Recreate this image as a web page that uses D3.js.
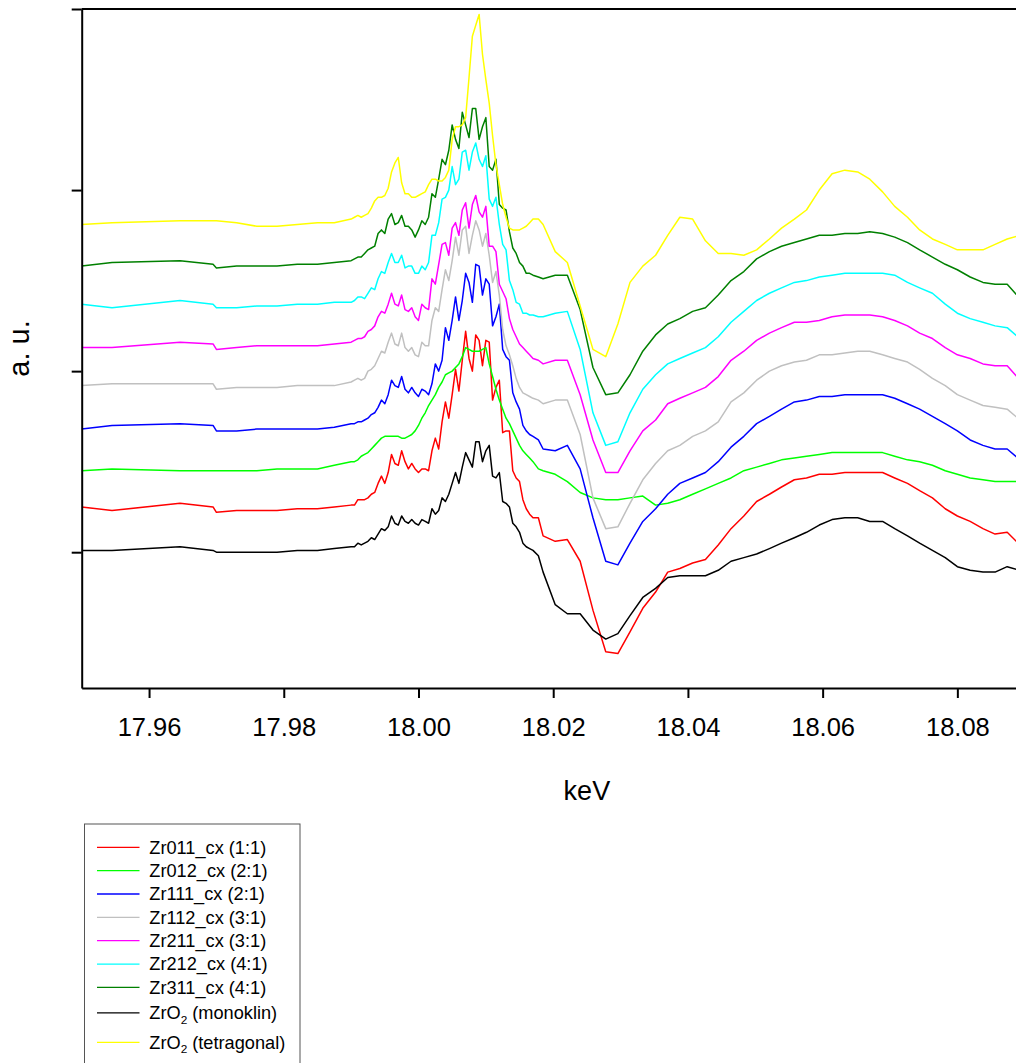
<!DOCTYPE html>
<html>
<head>
<meta charset="utf-8">
<script src="https://cdn.jsdelivr.net/npm/d3@7"></script>
<style>
  body { margin: 0; background: #ffffff; }
  svg { display: block; font-family: Arial, "Liberation Sans", Helvetica, sans-serif; }
</style>
</head>
<body>
<svg id="chart" width="1016" height="1063"></svg>
<script>
// Photon energy grid (keV) shared by all Zr K-edge XANES spectra
const energy = [
  17.9500, 17.9545, 17.9646, 17.9695, 17.9700, 17.9730, 17.9760, 17.9790, 17.9820, 17.9850, 17.9875,
  17.9900, 17.9905, 17.9910, 17.9915, 17.9920, 17.9925, 17.9930, 17.9935, 17.9940, 17.9945,
  17.9950, 17.9955, 17.9960, 17.9965, 17.9970, 17.9975, 17.9980, 17.9985, 17.9990, 17.9995,
  18.0000, 18.0005, 18.0010, 18.0015, 18.0020, 18.0025, 18.0030, 18.0035, 18.0040, 18.0045,
  18.0050, 18.0055, 18.0060, 18.0065, 18.0070, 18.0075, 18.0080, 18.0085, 18.0090, 18.0095,
  18.0100, 18.0105, 18.0110, 18.0115, 18.0120, 18.0125, 18.0130, 18.0135, 18.0140, 18.0145,
  18.0150, 18.0155, 18.0160, 18.0165, 18.0170,
  18.0178, 18.0185, 18.0203, 18.0221, 18.0240, 18.0259, 18.0278, 18.0296, 18.0314, 18.0333,
  18.0352, 18.0370, 18.0388, 18.0407, 18.0426, 18.0445, 18.0464, 18.0483, 18.0502, 18.0521,
  18.0539, 18.0558, 18.0576, 18.0595, 18.0614, 18.0633, 18.0652, 18.0670, 18.0689, 18.0707,
  18.0726, 18.0744, 18.0763, 18.0782, 18.0800, 18.0819, 18.0838, 18.0856, 18.0874, 18.0893
];

// Absorption (a.u., stacked with vertical offsets)
const zr011 = [
  25, 23, 27, 25, 22, 23, 23, 23, 24, 24, 25,
  26, 26, 29, 29, 29, 30, 32, 33, 38, 42,
  38, 44, 54, 49, 48, 56, 50, 46, 49, 46,
  44, 46, 46, 45, 56, 63, 57, 72, 83, 74,
  87, 101, 89, 106, 122, 107, 100, 120, 117, 103,
  117, 116, 84, 91, 95, 66, 67, 67, 45, 41,
  39, 29, 24, 21, 19,
  19, 9, 6, 7, -5, -32, -55, -56, -44, -31,
  -22, -11, -9, -6, -4, 4, 13, 20, 28, 32,
  36, 40, 41, 43, 43, 44, 44, 44, 44, 41,
  38, 34, 30, 24, 20, 17, 13, 10, 11, 4
];
const zr012 = [
  45, 46, 45, 45, 45, 45, 45, 46, 46, 46, 48,
  50, 50, 51, 53, 54, 55, 57, 59, 61, 63,
  64, 64, 64, 64, 64, 63, 63, 64, 65, 67,
  70, 74, 77, 81, 84, 87, 91, 94, 98, 99,
  100, 102, 104, 108, 113, 112, 111, 111, 111, 112,
  113, 104, 97, 90, 84, 79, 74, 71, 67, 63,
  59, 56, 54, 52, 50,
  46, 45, 43, 39, 33, 30, 29, 29, 30, 31,
  26, 27, 29, 32, 35, 38, 41, 45, 47, 49,
  51, 52, 53, 54, 55, 55, 55, 55, 55, 53,
  51, 50, 48, 45, 43, 41, 40, 39, 39, 39
];
const zr111 = [
  68, 70, 71, 70, 67, 67, 68, 68, 68, 68, 69,
  71, 71, 72, 72, 73, 74, 76, 77, 80, 84,
  82, 87, 95, 92, 91, 97, 90, 88, 91, 88,
  86, 90, 89, 87, 93, 104, 100, 106, 124, 117,
  128, 141, 128, 139, 154, 149, 138, 159, 158, 142,
  151, 148, 125, 130, 137, 112, 108, 106, 88, 83,
  79, 70, 67, 65, 64,
  62, 57, 56, 59, 46, 19, -5, -7, 5, 17,
  24, 32, 38, 41, 44, 50, 58, 64, 71, 75,
  79, 83, 84, 86, 86, 87, 87, 87, 87, 85,
  82, 79, 75, 71, 67, 62, 59, 57, 57, 51
];
const zr112 = [
  92, 93, 93, 93, 90, 91, 91, 91, 92, 92, 92,
  94, 95, 96, 95, 96, 100, 101, 103, 107, 111,
  110, 116, 121, 115, 114, 121, 113, 111, 113, 109,
  108, 116, 114, 114, 128, 135, 133, 145, 156, 150,
  161, 174, 164, 178, 180, 165, 175, 183, 178, 169,
  176, 164, 149, 155, 142, 123, 114, 109, 103, 96,
  91, 88, 87, 86, 85,
  84, 82, 84, 84, 65, 30, 13, 14, 27, 40,
  49, 56, 59, 64, 67, 72, 83, 88, 95, 100,
  103, 105, 106, 109, 109, 110, 111, 111, 109, 107,
  105, 101, 96, 92, 87, 84, 81, 80, 79, 73
];
const zr211 = [
  113, 113, 116, 115, 112, 113, 114, 114, 114, 114, 115,
  116, 117, 118, 118, 119, 122, 123, 125, 130, 133,
  132, 137, 143, 137, 136, 142, 134, 133, 135, 130,
  128, 137, 135, 134, 151, 148, 159, 170, 171, 164,
  179, 182, 175, 189, 193, 179, 192, 197, 188, 185,
  191, 169, 169, 166, 148, 144, 140, 129, 123, 119,
  115, 113, 111, 109, 107,
  106, 104, 106, 106, 87, 62, 44, 44, 56, 67,
  73, 82, 85, 88, 91, 97, 106, 111, 117, 121,
  124, 127, 127, 128, 130, 131, 131, 131, 130, 128,
  125, 121, 118, 113, 109, 107, 104, 103, 103, 95
];
const zr212 = [
  137, 135, 139, 137, 135, 135, 136, 136, 137, 137, 138,
  138, 139, 141, 141, 140, 143, 146, 145, 151, 155,
  154, 160, 165, 160, 160, 164, 157, 158, 158, 154,
  154, 158, 156, 160, 175, 175, 182, 195, 196, 200,
  213, 203, 206, 221, 222, 211, 221, 226, 217, 213,
  219, 195, 191, 196, 181, 170, 167, 150, 145, 138,
  137, 132, 132, 131, 131,
  130, 130, 132, 133, 112, 77, 59, 61, 77, 90,
  98, 104, 107, 110, 113, 119, 127, 133, 139, 143,
  146, 149, 150, 152, 153, 154, 154, 154, 154, 153,
  149, 146, 143, 137, 132, 129, 127, 125, 124, 118
];
const zr311 = [
  158, 160, 161, 159, 157, 158, 158, 158, 159, 159, 160,
  161, 162, 163, 163, 165, 167, 168, 169, 176, 178,
  176, 184, 187, 181, 182, 186, 180, 180, 178, 174,
  178, 183, 181, 185, 198, 196, 206, 217, 214, 222,
  236, 228, 223, 243, 236, 229, 245, 245, 228, 235,
  240, 213, 211, 217, 192, 190, 189, 177, 168, 165,
  160, 158, 154, 154, 153,
  152, 151, 153, 153, 134, 102, 87, 88, 98, 111,
  120, 126, 129, 133, 135, 142, 150, 155, 162, 166,
  169, 171, 173, 175, 175, 176, 176, 177, 176, 174,
  171, 167, 163, 159, 156, 152, 149, 148, 148, 140
];
const zrO2Monoclinic = [
  1, 1, 3, 1, 0, 0, 0, 0, 1, 1, 2,
  3, 3, 5, 4, 5, 6, 8, 7, 10, 13,
  12, 14, 20, 16, 15, 20, 17, 16, 18, 16,
  15, 18, 17, 16, 24, 21, 23, 30, 28, 32,
  38, 44, 38, 47, 55, 51, 47, 61, 61, 50,
  56, 59, 42, 41, 44, 28, 27, 25, 16, 14,
  11, 5, 3, 2, 1,
  -2, -11, -29, -34, -34, -43, -48, -45, -35, -25,
  -20, -14, -13, -13, -13, -10, -5, -3, -1, 2,
  5, 8, 11, 15, 18, 19, 19, 17, 17, 13,
  9, 5, 1, -3, -8, -10, -11, -11, -8, -10
];
const zrO2Tetragonal = [
  181, 182, 183, 183, 183, 182, 180, 180, 181, 182, 182,
  184, 185, 186, 185, 186, 187, 190, 194, 196, 196,
  197, 201, 210, 215, 218, 204, 198, 198, 196, 196,
  197, 198, 199, 203, 206, 206, 205, 205, 207, 211,
  228, 235, 235, 236, 240, 262, 285, 291, 297, 275,
  261, 248, 230, 214, 203, 192, 185, 179, 178, 178,
  178, 179, 180, 182, 184,
  184, 181, 166, 160, 136, 112, 108, 126, 149, 158,
  164, 175, 185, 184, 172, 165, 165, 164, 167, 173,
  179, 184, 189, 200, 209, 211, 210, 206, 199, 191,
  185, 178, 173, 170, 167, 167, 167, 170, 173, 175
];

// Legend labels: [main text, subscript, trailing text]
const seriesLabels = [
  ["Zr011_cx (1:1)", "", ""],
  ["Zr012_cx (2:1)", "", ""],
  ["Zr111_cx (2:1)", "", ""],
  ["Zr112_cx (3:1)", "", ""],
  ["Zr211_cx (3:1)", "", ""],
  ["Zr212_cx (4:1)", "", ""],
  ["Zr311_cx (4:1)", "", ""],
  ["ZrO", "2", " (monoklin)"],
  ["ZrO", "2", " (tetragonal)"]
];
const seriesColors = ["#ff0000", "#00ff00", "#0000ff", "#c0c0c0", "#ff00ff", "#00ffff", "#008000", "#000000", "#ffff00"];
const seriesValues = [zr011, zr012, zr111, zr112, zr211, zr212, zr311, zrO2Monoclinic, zrO2Tetragonal];

const xTicks = [17.96, 17.98, 18.00, 18.02, 18.04, 18.06, 18.08];
const yTicks = [0, 100, 200, 300];
const xDomain = [17.95, 18.10];
const yDomain = [-75, 300];

// ---- layout ----
const svg = d3.select("#chart");
const plotLeft = 81.7, plotTop = 9, plotBottom = 688;
const pxPerKeV = 6735.8;
const plotRight = plotLeft + (xDomain[1] - xDomain[0]) * pxPerKeV;

const x = d3.scaleLinear().domain(xDomain).range([plotLeft, plotRight]);
const y = d3.scaleLinear().domain(yDomain).range([plotBottom, plotTop]);

svg.append("rect").attr("width", 1016).attr("height", 1063).attr("fill", "#ffffff");

svg.append("defs").append("clipPath").attr("id", "plotClip")
  .append("rect")
  .attr("x", plotLeft).attr("y", plotTop - 2)
  .attr("width", plotRight - plotLeft).attr("height", plotBottom - plotTop + 2);

// spectra
const lineGen = d3.line()
  .x((d, i) => x(energy[i]))
  .y(d => y(d));

const linesG = svg.append("g").attr("clip-path", "url(#plotClip)");
seriesValues.forEach((vals, k) => {
  linesG.append("path")
    .datum(vals)
    .attr("d", lineGen)
    .attr("fill", "none")
    .attr("stroke", seriesColors[k])
    .attr("stroke-width", 1.5)
    .attr("stroke-linejoin", "round");
});

// top frame line
svg.append("line")
  .attr("x1", plotLeft).attr("x2", plotRight)
  .attr("y1", y(yDomain[1])).attr("y2", y(yDomain[1]))
  .attr("stroke", "#000").attr("stroke-width", 2);

// x axis
const xAxis = d3.axisBottom(x)
  .tickValues(xTicks)
  .tickFormat(d3.format(".2f"))
  .tickSize(10)
  .tickSizeOuter(0)
  .tickPadding(19.5);
const gx = svg.append("g").attr("transform", `translate(0,${plotBottom})`).call(xAxis);
gx.select(".domain").attr("stroke-width", 2);
gx.selectAll(".tick line").attr("stroke-width", 2);
gx.selectAll(".tick text")
  .attr("font-size", 25.5)
  .attr("font-family", "Arial, 'Liberation Sans', sans-serif")
  .attr("fill", "#000");

// y axis (unlabelled ticks)
const yAxis = d3.axisLeft(y)
  .tickValues(yTicks)
  .tickFormat("")
  .tickSize(10)
  .tickSizeOuter(0);
const gy = svg.append("g").attr("transform", `translate(${plotLeft},0)`).call(yAxis);
gy.select(".domain").attr("stroke-width", 2);
gy.selectAll(".tick line").attr("stroke-width", 2);

// axis titles
svg.append("text")
  .attr("x", (plotLeft + plotRight) / 2)
  .attr("y", 800)
  .attr("text-anchor", "middle")
  .attr("font-size", 27)
  .attr("fill", "#000")
  .text("keV");

svg.append("text")
  .attr("transform", `translate(29,${(plotTop + plotBottom) / 2}) rotate(-90)`)
  .attr("text-anchor", "middle")
  .attr("font-size", 29)
  .attr("fill", "#000")
  .text("a. u.");

// legend
const legend = svg.append("g");
legend.append("rect")
  .attr("x", 84.5).attr("y", 824)
  .attr("width", 215.5).attr("height", 260)
  .attr("fill", "#fff")
  .attr("stroke", "#555").attr("stroke-width", 1);

let rowY = 847.3;
seriesLabels.forEach((lab, k) => {
  const hasSub = lab[1] !== "";
  const row = legend.append("g");
  row.append("line")
    .attr("x1", 97).attr("x2", 139.5)
    .attr("y1", rowY).attr("y2", rowY)
    .attr("stroke", seriesColors[k])
    .attr("stroke-width", 1.3);
  const t = row.append("text")
    .attr("x", 149.3)
    .attr("y", rowY + 6.4)
    .attr("font-size", 18.2)
    .attr("fill", "#000");
  t.append("tspan").text(lab[0]);
  if (hasSub) {
    t.append("tspan").attr("font-size", 11.8).attr("dy", 4.5).text(lab[1]);
    t.append("tspan").attr("dy", -4.5).text(lab[2]);
  }
  const next = seriesLabels[k + 1];
  rowY += hasSub ? 29.6 : (next && next[1] !== "" ? 25.4 : 23.35);
});
</script>
</body>
</html>
